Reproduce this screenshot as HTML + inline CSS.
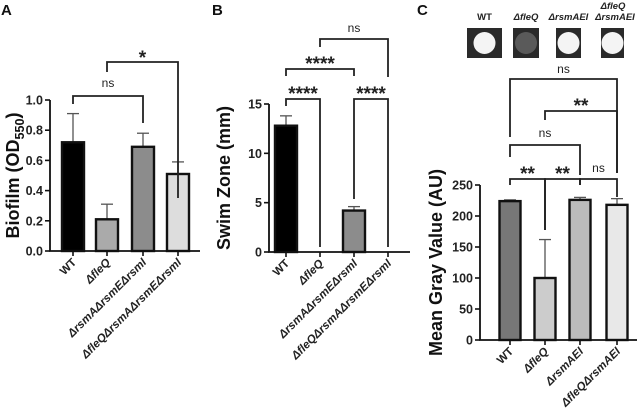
<!DOCTYPE html>
<html><head><meta charset="utf-8"><style>
body{margin:0;background:#fff}
svg{display:block;font-family:"Liberation Sans",sans-serif}
</style></head><body>
<svg id="s" width="644" height="414" viewBox="0 0 644 414"></svg>
<script>
const catsA=["WT","ΔfleQ","ΔrsmAΔrsmEΔrsmI","ΔfleQΔrsmAΔrsmEΔrsmI"];
const valsA=[0.72,0.21,0.69,0.51];
const errA=[0.91,0.31,0.78,0.59];
const ticksA=["0.0","0.2","0.4","0.6","0.8","1.0"];
const catsB=["WT","ΔfleQ","ΔrsmAΔrsmEΔrsmI","ΔfleQΔrsmAΔrsmEΔrsmI"];
const valsB=[12.8,0,4.2,0];
const errB=[13.8,0,4.6,0];
const ticksB=["0","5","10","15"];
const catsC=["WT","ΔfleQ","ΔrsmAEI","ΔfleQΔrsmAEI"];
const valsC=[224,100,226,218];
const errC=[226,162,230,228];
const ticksC=["0","50","100","150","200","250"];

const NS="http://www.w3.org/2000/svg";
const svg=document.getElementById('s');
function mk(tag,attrs,parent,text){const e=document.createElementNS(NS,tag);for(const k in attrs)e.setAttribute(k,attrs[k]);if(text!==undefined)e.textContent=text;(parent||svg).appendChild(e);return e;}

function panel(o){
  const g=mk('g',{});
  
  
  const y=v=>o.y0-(v-o.min)/(o.max-o.min)*(o.y0-o.yTop);
  const x=i=>o.xs[i];
  o.vals.forEach((v,i)=>{
    if(o.errs[i]>v){
      const l=mk('line',{x1:x(i),x2:x(i),y1:y(v),y2:y(o.errs[i]),stroke:'#555','stroke-width':1.3},g);
      
      
      const c=mk('line',{x1:x(i)-6,x2:x(i)+6,y1:y(o.errs[i]),y2:y(o.errs[i]),stroke:'#555','stroke-width':1.3},g);
      
      
    }
    if(v>0){
      const r=mk('rect',{x:x(i)-o.bw/2,y:y(v),width:o.bw,height:y(o.min)-y(v),fill:o.colors[i],stroke:'#111','stroke-width':2.4},g);
      
      
    }
  });
  const ax=mk('path',{d:`M${o.ax},${o.yTop}V${o.y0}H${o.axEnd}`,fill:'none',stroke:'#111','stroke-width':1.8},g);
  
  
  o.ticks.forEach(t=>{
    const v=parseFloat(t);
    mk('line',{x1:o.ax-5,x2:o.ax,y1:y(v),y2:y(v),stroke:'#111','stroke-width':1.6},g);
    const tl=mk('text',{x:o.ax-7,y:y(v)+4.5,'text-anchor':'end','font-size':12.5,'font-weight':'bold',fill:'#222'},g,t);
    
    
  });
  o.cats.forEach((c,i)=>{
    mk('line',{x1:x(i),x2:x(i),y1:o.y0,y2:o.y0+5,stroke:'#111','stroke-width':1.6},g);
    const tl=mk('text',{x:x(i)+4,y:o.y0+12,'text-anchor':'end','font-size':11.5,'font-weight':'bold','font-style':i>0?'italic':'normal',fill:'#222',transform:`rotate(-45 ${x(i)+4} ${o.y0+12})`},g,c);
    
    
  });
  const cy=(o.y0+o.yTop)/2;
  const yt=mk('text',{x:o.ytx,y:cy,'text-anchor':'middle','font-size':o.ytSize,'font-weight':'bold',fill:'#111',transform:`rotate(-90 ${o.ytx} ${cy})`},g);
  
  
  if(o.sub){mk('tspan',{},yt,o.title);mk('tspan',{dy:5,'font-size':o.ytSize*0.7},yt,o.sub);mk('tspan',{dy:-5},yt,')');}
  else yt.textContent=o.title;
  o.brackets.forEach(b=>{
    const p=mk('path',{d:`M${x(b[0])},${b[3]}V${b[2]}H${x(b[1])}V${b[4]}`,fill:'none',stroke:'#222','stroke-width':1.8},g);
    
    
    const star=b[5]!=='ns';
    const t=mk('text',{x:(x(b[0])+x(b[1]))/2,y:star?b[6]+4:b[6],'text-anchor':'middle','font-size':star?19:12,'font-weight':star?'bold':'normal',fill:'#222'},g,b[5]);
    
    
  });
  const L=mk('text',{x:o.lx,y:15,'font-size':15,'font-weight':'bold',fill:'#111'},g,o.letter);
  
  
}

panel({name:'panel-a-biofilm',letter:'A',lx:1,cats:catsA,vals:valsA,errs:errA,ticks:ticksA,min:0,max:1,y0:251,yTop:100,ax:50,axEnd:200,xs:[73,107,143,178],bw:22,
 colors:['#000','#aaa','#8c8c8c','#ddd'],title:'Biofilm (OD',sub:'550',ytx:19,ytSize:18,
 brackets:[[0,2,96,104,123,'ns',87],[1,3,62,72,198,'*',60]]});
panel({name:'panel-b-swim',letter:'B',lx:212,cats:catsB,vals:valsB,errs:errB,ticks:ticksB,min:0,max:15,y0:252,yTop:104,ax:269,axEnd:410,xs:[286,320,354,388],bw:22,
 colors:['#000','#aaa','#8c8c8c','#ddd'],title:'Swim Zone (mm)',ytx:230,ytSize:18,
 brackets:[[0,1,99,106,247,'****',96],[0,2,69,76,76,'****',66],[2,3,99,199,247,'****',96],[1,3,39,47,77,'ns',32]]});
panel({name:'panel-c-gray',letter:'C',lx:417,cats:catsC,vals:valsC,errs:errC,ticks:ticksC,min:0,max:250,y0:340,yTop:185,ax:480,axEnd:637,xs:[510,545,580,617],bw:21,
 colors:['#777','#ccc','#bbb','#e8e8e8'],title:'Mean Gray Value (AU)',ytx:442,ytSize:18,
 brackets:[[0,1,179,185,230,'**',176],[1,2,179,230,185,'**',176],[2,3,179,185,197,'ns',172],[0,2,145,157,175,'ns',137],[1,3,111,120,173,'**',108],[0,3,79,137,173,'ns',73]]});

const imgs=[[467,502,'WT',1],[513,539,'ΔfleQ',0.35],[556,581,'ΔrsmAEI',1],[601,624,'',0.85]];
imgs.forEach((m,i)=>{
  const g=mk('g',{});
  
  
  mk('rect',{x:m[0],y:28,width:m[1]-m[0],height:30,fill:'#2a2a2a'},g);
  mk('circle',{cx:(m[0]+m[1])/2,cy:43,r:11,fill:m[3]>0.5?'#f4f4f4':'#5a5a5a'},g);
  if(m[2]){const t=mk('text',{x:(m[0]+m[1])/2,y:20,'text-anchor':'middle','font-size':9.5,'font-weight':'bold','font-style':i?'italic':'normal',fill:'#222'},g,m[2]);
  
  }
});
const t1=mk('text',{x:613,y:9,'text-anchor':'middle','font-size':9.5,'font-weight':'bold','font-style':'italic',fill:'#222'},svg,'ΔfleQ');


const t2=mk('text',{x:615,y:20,'text-anchor':'middle','font-size':9.5,'font-weight':'bold','font-style':'italic',fill:'#222'},svg,'ΔrsmAEI');


</script>
</body></html>
